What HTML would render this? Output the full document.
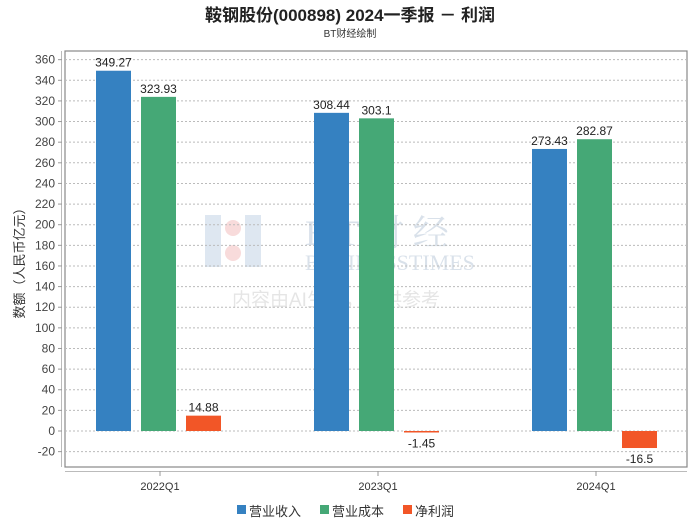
<!DOCTYPE html>
<html><head><meta charset="utf-8"><style>
body{margin:0;background:#fff;width:700px;height:524px;overflow:hidden;font-family:"Liberation Sans","Noto Sans CJK SC",sans-serif}
</style></head><body>
<svg id="c" width="700" height="524" xmlns="http://www.w3.org/2000/svg" font-family="Liberation Sans, Noto Sans CJK SC, sans-serif">
<text x="350" y="21" text-anchor="middle" font-size="17" font-weight="bold" fill="#222">鞍钢股份(000898) 2024一季报 － 利润</text>
<text x="350" y="37" text-anchor="middle" font-size="10" fill="#333">BT财经绘制</text>
<rect x="65" y="51" width="622" height="416" fill="none" stroke="#888" stroke-width="1.2"/>
<line x1="61.5" y1="51" x2="61.5" y2="467" stroke="#bbb"/>
<line x1="65" y1="471.5" x2="687" y2="471.5" stroke="#bbb"/>
<text transform="translate(24,260) rotate(-90)" text-anchor="middle" font-size="13" fill="#333">数额（人民币亿元）</text>
<g opacity="0.25">
<rect x="205" y="215" width="16" height="52" fill="#7fa3c8"/><rect x="245" y="215" width="16" height="52" fill="#7fa3c8"/><circle cx="233" cy="228" r="8" fill="#e57373"/><circle cx="233" cy="253" r="8" fill="#e57373"/>
<text x="305" y="245" font-size="36" font-family="Liberation Serif, Noto Serif CJK SC, serif" fill="#6b8bb0">B T 财 经</text>
<text x="305" y="270" font-size="22" font-family="Liberation Serif, serif" fill="#6b8bb0">BUSINESSTIMES</text>
<text x="232" y="306" font-size="19" fill="#999">内容由AI生成，仅供参考</text>
</g>
<g id="grid"></g><g id="bars"></g>
<g font-size="13">
<rect x="237" y="505" width="9" height="9" fill="#3581c1"/><text x="249" y="516" fill="#333">营业收入</text>
<rect x="320" y="505" width="9" height="9" fill="#45a876"/><text x="332" y="516" fill="#333">营业成本</text>
<rect x="403" y="505" width="9" height="9" fill="#f25627"/><text x="415" y="516" fill="#333">净利润</text>
</g>
</svg>
<script>
const categories=["2022Q1","2023Q1","2024Q1"];
const revenue=[349.27,308.44,273.43];
const cost=[323.93,303.1,282.87];
const profit=[14.88,-1.45,-16.5];
const yTicks=[-20,0,20,40,60,80,100,120,140,160,180,200,220,240,260,280,300,320,340,360];
const NS="http://www.w3.org/2000/svg";
const y=v=>431-(v)*20.63/20;
const xc=i=>158+i*218;
const grid=document.getElementById('grid'),bars=document.getElementById('bars');
function mk(t,a,p){const e=document.createElementNS(NS,t);for(const k in a)e.setAttribute(k,a[k]);p.appendChild(e);return e;}
yTicks.forEach(v=>{
 const l=mk('line',{x1:65,x2:687,y1:y(v),y2:y(v),stroke:'#bbb','stroke-dasharray':'2,2'},grid);
 
 
 mk('line',{x1:58,x2:62,y1:y(v),y2:y(v),stroke:'#999'},grid);
 const t=mk('text',{x:55,y:y(v)+4,'text-anchor':'end','font-size':12,fill:'#444'},grid);t.textContent=v;
 
 
});
const series=[[revenue,'#3581c1'],[cost,'#45a876'],[profit,'#f25627']];
categories.forEach((c,i)=>{
 mk('line',{x1:xc(i)+2,x2:xc(i)+2,y1:471,y2:476,stroke:'#999'},grid);
 const t=mk('text',{x:xc(i)+2,y:490,'text-anchor':'middle','font-size':11,fill:'#333'},grid);t.textContent=c;
 
 
 series.forEach(([arr,col],j)=>{
  const v=arr[i],x0=xc(i)-62+j*45,top=Math.min(y(v),y(0)),h=Math.max(Math.abs(y(v)-y(0)),1);
  const r=mk('rect',{x:x0,y:top,width:35,height:h,fill:col},bars);
  
  
  const lt=mk('text',{x:x0+17.5,y:v>=0?y(v)-4:y(v)+15,'text-anchor':'middle','font-size':12,fill:'#222'},bars);lt.textContent=v;
  
  
 });
});
</script>
</body></html>
